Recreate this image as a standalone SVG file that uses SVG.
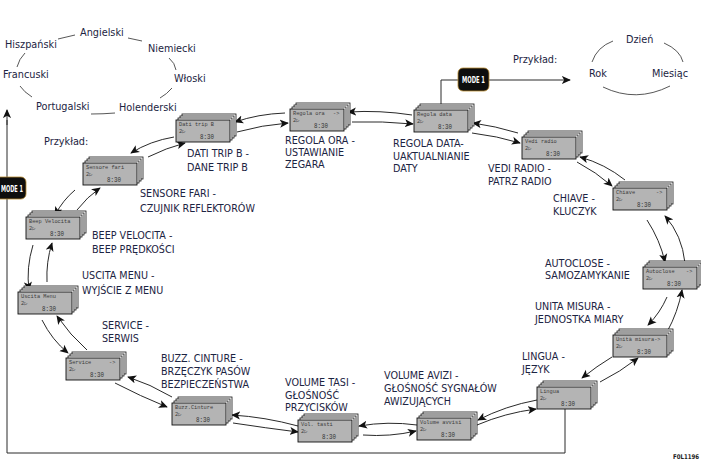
<svg xmlns="http://www.w3.org/2000/svg" xmlns:xlink="http://www.w3.org/1999/xlink" width="701" height="469" viewBox="0 0 701 469">
<style>
.t{font-family:"Liberation Sans Narrow","DejaVu Sans Condensed","Liberation Sans",sans-serif;font-stretch:condensed;fill:#1c2442}
.lang{font-size:10.8px}
.lab{font-size:10.7px}
.lcd{font-family:"Liberation Mono","DejaVu Sans Mono",monospace;font-size:5.3px;fill:#3a3a3a}
.clk{font-family:"Liberation Mono","DejaVu Sans Mono",monospace;font-size:7px;fill:#333}
.c{fill:none;stroke:#2a2a2a;stroke-width:1}
.arr{fill:none;stroke:#2a2a2a;stroke-width:1;marker-end:url(#ah)}
.ring{fill:none;stroke:#444;stroke-width:0.9}
.mode{fill:#0e0e0e;stroke:#b88a30;stroke-width:0.8}
.modet{font-family:"Liberation Sans Narrow","DejaVu Sans Condensed","Liberation Sans",sans-serif;font-weight:bold;font-size:8.5px;fill:#fff;text-anchor:middle}
.card{fill:#fff;stroke:#111;stroke-width:0.8}
.front{fill:#b4b4b4;stroke:#111;stroke-width:0.9}
</style>
<defs>
<marker id="ah" viewBox="0 0 10 10" refX="9" refY="5" markerWidth="9" markerHeight="9" markerUnits="userSpaceOnUse" orient="auto">
<path d="M0,0.5 L10,5 L0,9.5 L2.5,5 z" fill="#111"/>
</marker>
<g id="stack">
<rect class="card" x="6" y="-6" width="54" height="22"/>
<rect class="card" x="4" y="-4" width="54" height="22"/>
<rect class="card" x="2" y="-2" width="54" height="22"/>
<rect class="front" x="0" y="0" width="54" height="22"/>
<text class="lcd" x="3" y="12.5">2▷</text>
<text class="clk" x="24" y="19" textLength="14" lengthAdjust="spacingAndGlyphs">8:30</text>
</g>
</defs>

<!-- language ring -->
<g id="languages">
<text class="t lang" x="80" y="36">Angielski</text>
<text class="t lang" x="5" y="48">Hiszpański</text>
<text class="t lang" x="148" y="52">Niemiecki</text>
<text class="t lang" x="3" y="78">Francuski</text>
<text class="t lang" x="174" y="82">Włoski</text>
<text class="t lang" x="36" y="110">Portugalski</text>
<text class="t lang" x="119" y="111">Holenderski</text>
<path class="ring" d="M58,39 L75,35"/>
<path class="ring" d="M128,38 L142,41"/>
<path class="ring" d="M169,58 Q175,63 176,70"/>
<path class="ring" d="M172,88 Q167,94 160,98"/>
<path class="ring" d="M115,113 Q103,114 91,114"/>
<path class="ring" d="M32,97 Q24,92 20,86"/>
<path class="ring" d="M17,67 Q19,59 25,53"/>
</g>

<!-- date ring -->
<g id="date-example">
<text class="t lang" x="513" y="63">Przykład:</text>
<text class="t lang" x="626" y="43">Dzień</text>
<text class="t lang" x="589" y="77">Rok</text>
<text class="t lang" x="652" y="77">Miesiąc</text>
<path class="ring" d="M592,62 Q597,47 613,41"/>
<path class="ring" d="M664,43 Q680,50 683,62"/>
<path class="ring" d="M603,87 Q636,103 670,86"/>
</g>

<text class="t lang" x="44" y="145">Przykład:</text>

<!-- connectors -->
<g id="connectors">
<path class="c" d="M565,408 V453 H7 V120"/>
<path class="arr" d="M7,125 V110"/>
<path class="c" d="M458,80 H441 V106"/>
<path class="arr" d="M489,80 H570"/>

<path class="arr" d="M174,137 Q150,141 131,153"/>
<path class="arr" d="M148,157 Q166,148 185,143"/>
<path class="arr" d="M285,113 Q258,114 235,122"/>
<path class="arr" d="M237,132 Q262,125 288,123"/>
<path class="arr" d="M412,115 Q380,110 348,112"/>
<path class="arr" d="M352,122 Q382,121 413,124"/>
<path class="arr" d="M518,133 Q495,126 473,123"/>
<path class="arr" d="M472,133 Q497,136 520,143"/>
<path class="arr" d="M625,180 Q605,164 580,157"/>
<path class="arr" d="M577,162 Q596,172 612,186"/>
<path class="arr" d="M647,220 Q660,240 665,262"/>
<path class="arr" d="M685,263 Q682,235 665,216"/>
<path class="arr" d="M667,297 Q660,313 648,325"/>
<path class="arr" d="M667,332 Q678,312 682,290"/>
<path class="arr" d="M612,357 Q597,366 582,378"/>
<path class="arr" d="M600,382 Q620,372 638,358"/>
<path class="arr" d="M537,400 Q505,406 478,420"/>
<path class="arr" d="M477,425 Q505,413 536,409"/>
<path class="arr" d="M417,425 Q388,421 359,426"/>
<path class="arr" d="M363,435 Q390,437 416,431"/>
<path class="arr" d="M298,426 Q265,417 232,415"/>
<path class="arr" d="M233,423 Q266,428 298,432"/>
<path class="arr" d="M172,397 Q150,384 128,377"/>
<path class="arr" d="M115,383 Q140,396 167,407"/>
<path class="arr" d="M42,320 Q52,340 68,353"/>
<path class="arr" d="M87,350 Q70,335 57,316"/>
<path class="arr" d="M33,245 Q26,268 29,290"/>
<path class="arr" d="M47,282 Q46,262 52,243"/>
<path class="arr" d="M75,190 Q63,200 55,215"/>
<path class="arr" d="M77,210 Q87,197 100,188"/>
</g>

<!-- MODE 1 buttons -->
<g id="mode-top">
<rect class="mode" x="458" y="68" width="31" height="23" rx="5"/>
<text class="modet" x="473.5" y="83" textLength="23" lengthAdjust="spacingAndGlyphs">MODE 1</text>
</g>
<g id="mode-left">
<rect class="mode" x="-5" y="177" width="31" height="22" rx="5"/>
<text class="modet" x="12" y="191.5" textLength="22" lengthAdjust="spacingAndGlyphs">MODE 1</text>
</g>

<!-- nodes -->
<g id="dati-trip">
<use xlink:href="#stack" transform="translate(176,120)"/>
<text class="lcd" x="179" y="126">Dati trip B</text>
<text class="t lab" x="187" y="157">DATI TRIP B -</text>
<text class="t lab" x="187" y="171">DANE TRIP B</text>
</g>
<g id="regola-ora">
<use xlink:href="#stack" transform="translate(290,109)"/>
<text class="lcd" x="293" y="115">Regola ora</text><text class="lcd" x="333" y="115">-&gt;</text>
<text class="t lab" x="285" y="144">REGOLA ORA -</text>
<text class="t lab" x="285" y="156">USTAWIANIE</text>
<text class="t lab" x="285" y="168">ZEGARA</text>
</g>
<g id="regola-data">
<use xlink:href="#stack" transform="translate(414,110)"/>
<text class="lcd" x="417" y="116">Regola data</text>
<text class="t lab" x="393" y="147">REGOLA DATA-</text>
<text class="t lab" x="393" y="159.5">UAKTUALNIANIE</text>
<text class="t lab" x="393" y="172">DATY</text>
</g>
<g id="vedi-radio">
<use xlink:href="#stack" transform="translate(522,137)"/>
<text class="lcd" x="525" y="143">Vedi radio</text>
<text class="t lab" x="488" y="172">VEDI RADIO -</text>
<text class="t lab" x="488" y="185">PATRZ RADIO</text>
</g>
<g id="chiave">
<use xlink:href="#stack" transform="translate(613,188)"/>
<text class="lcd" x="616" y="194">Chiave</text><text class="lcd" x="656" y="194">-&gt;</text>
<text class="t lab" x="553" y="202">CHIAVE -</text>
<text class="t lab" x="553" y="215">KLUCZYK</text>
</g>
<g id="autoclose">
<use xlink:href="#stack" transform="translate(643,267)"/>
<text class="lcd" x="646" y="273">Autoclose</text><text class="lcd" x="686" y="273">-&gt;</text>
<text class="t lab" x="545" y="267">AUTOCLOSE -</text>
<text class="t lab" x="545" y="279">SAMOZAMYKANIE</text>
</g>
<g id="unita-misura">
<use xlink:href="#stack" transform="translate(613,335)"/>
<text class="lcd" x="616" y="341">Unità misura-&gt;</text>
<text class="t lab" x="535" y="310">UNITA MISURA -</text>
<text class="t lab" x="535" y="323">JEDNOSTKA MIARY</text>
</g>
<g id="lingua">
<use xlink:href="#stack" transform="translate(537,387)"/>
<text class="lcd" x="540" y="393">Lingua</text>
<text class="t lab" x="522" y="360">LINGUA -</text>
<text class="t lab" x="522" y="373">JĘZYK</text>
</g>
<g id="volume-avvisi">
<use xlink:href="#stack" transform="translate(417,418)"/>
<text class="lcd" x="420" y="424">Volume avvisi</text>
<text class="t lab" x="384" y="379">VOLUME AVIZI -</text>
<text class="t lab" x="384" y="392">GŁOŚNOŚĆ SYGNAŁÓW</text>
<text class="t lab" x="384" y="405">AWIZUJĄCYCH</text>
</g>
<g id="vol-tasti">
<use xlink:href="#stack" transform="translate(298,420)"/>
<text class="lcd" x="301" y="426">Vol. tasti</text>
<text class="t lab" x="285" y="386">VOLUME TASI -</text>
<text class="t lab" x="285" y="398.5">GŁOŚNOŚĆ</text>
<text class="t lab" x="285" y="411">PRZYCISKÓW</text>
</g>
<g id="buzz-cinture">
<use xlink:href="#stack" transform="translate(172,403)"/>
<text class="lcd" x="175" y="409">Buzz.Cinture</text>
<text class="t lab" x="161" y="362">BUZZ. CINTURE -</text>
<text class="t lab" x="161" y="375">BRZĘCZYK PASÓW</text>
<text class="t lab" x="161" y="388">BEZPIECZEŃSTWA</text>
</g>
<g id="service">
<use xlink:href="#stack" transform="translate(66,358)"/>
<text class="lcd" x="69" y="364">Service</text><text class="lcd" x="109" y="364">-&gt;</text>
<text class="t lab" x="102" y="329">SERVICE -</text>
<text class="t lab" x="102" y="342">SERWIS</text>
</g>
<g id="uscita-menu">
<use xlink:href="#stack" transform="translate(18,292)"/>
<text class="lcd" x="21" y="298">Uscita Menu</text>
<text class="t lab" x="82" y="279">USCITA MENU -</text>
<text class="t lab" x="82" y="294">WYJŚCIE Z MENU</text>
</g>
<g id="beep-velocita">
<use xlink:href="#stack" transform="translate(26,217)"/>
<text class="lcd" x="29" y="223">Beep Velocita</text>
<text class="t lab" x="92" y="239">BEEP VELOCITA -</text>
<text class="t lab" x="92" y="253">BEEP PRĘDKOŚCI</text>
</g>
<g id="sensore-fari">
<use xlink:href="#stack" transform="translate(83,163)"/>
<text class="lcd" x="86" y="169">Sensore fari</text>
<text class="t lab" x="140" y="197">SENSORE FARI -</text>
<text class="t lab" x="140" y="212">CZUJNIK REFLEKTORÓW</text>
</g>

<text x="673" y="459" textLength="26" lengthAdjust="spacingAndGlyphs" style="font-family:'Liberation Sans Narrow','DejaVu Sans Condensed',sans-serif;font-weight:bold;font-size:6.5px;fill:#222">F0L1196</text>
</svg>
